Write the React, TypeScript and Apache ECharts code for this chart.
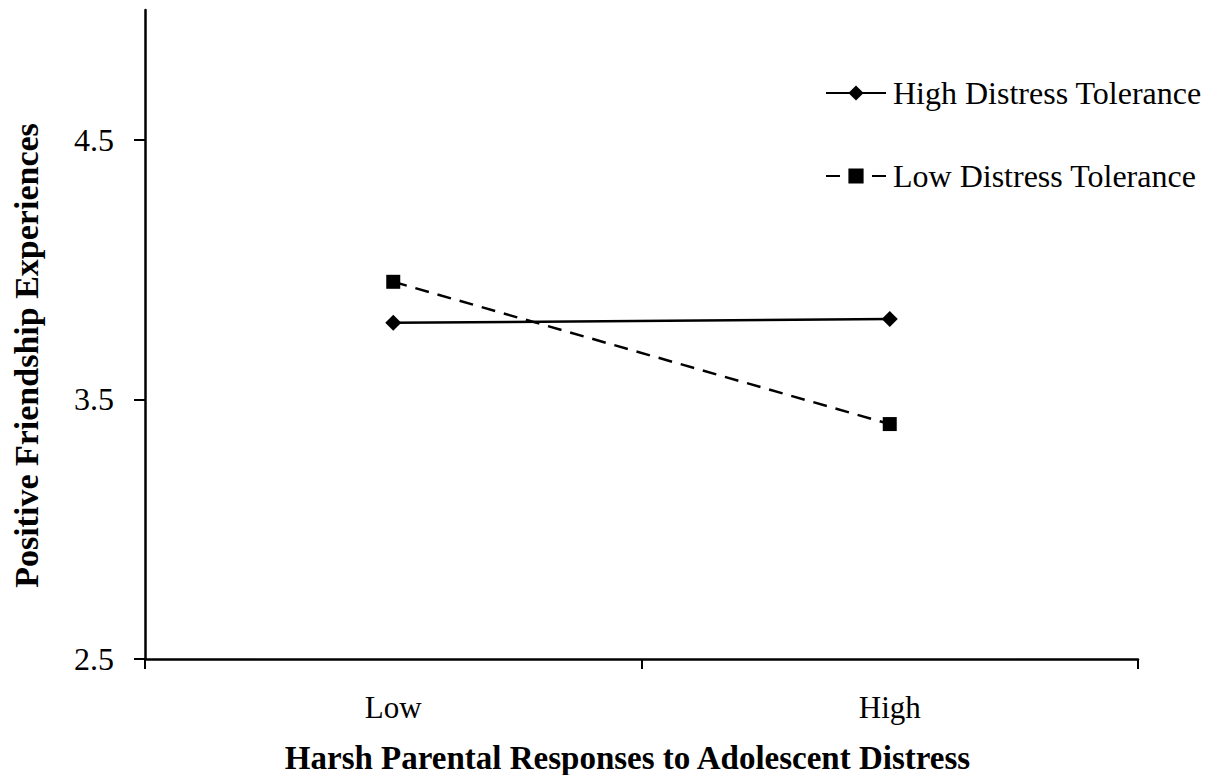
import React, { useEffect, useRef } from "react";
import * as echarts from "echarts";

const categories = ["Low", "High"];
const highDT = [3.795, 3.81];
const lowDT = [3.953, 3.405];
const yTicks = [2.5, 3.5, 4.5];

const FONT = "Liberation Serif";

export default function App() {
  const ref = useRef<HTMLDivElement>(null);
  useEffect(() => {
    if (!ref.current) return;
    const chart = echarts.init(ref.current, undefined, { renderer: "svg" });
    chart.setOption({
      animation: false,
      backgroundColor: "#ffffff",
      textStyle: { fontFamily: FONT, color: "#000" },
      grid: { left: 137, right: 82, top: 2, bottom: 116, containLabel: false, outerBoundsMode: "none" },
      legend: {
        orient: "vertical",
        left: 812,
        top: 64,
        itemWidth: 60,
        itemHeight: 19,
        itemGap: 51,
        textStyle: { fontFamily: FONT, fontSize: 32, color: "#000", padding: [0, 0, 0, 2] },
        data: [
          { name: "High Distress Tolerance" },
          { name: "Low Distress Tolerance" },
        ],
      },
      xAxis: {
        type: "category",
        data: categories,
        boundaryGap: true,
        axisLine: { lineStyle: { color: "#000", width: 2.5 } },
        axisTick: { show: true, length: 10, lineStyle: { color: "#000", width: 2 } },
        axisLabel: { fontFamily: FONT, fontSize: 31, color: "#000", margin: 33 },
        name: "Harsh Parental Responses to Adolescent Distress",
        nameLocation: "middle",
        nameGap: 82,
        nameTextStyle: {
          fontFamily: FONT,
          fontSize: 33,
          fontWeight: "bold",
          color: "#000",
          padding: [0, 28, 0, 0],
        },
      },
      yAxis: {
        type: "value",
        min: 2.5,
        max: 5,
        interval: 1,
        splitLine: { show: false },
        axisLine: { show: true, lineStyle: { color: "#000", width: 2.5 } },
        axisTick: { show: true, length: 11, customValues: yTicks, lineStyle: { color: "#000", width: 2 } },
        axisLabel: {
          fontFamily: FONT,
          fontSize: 32,
          color: "#000",
          margin: 31,
          customValues: yTicks,
          formatter: (v: number) => v.toFixed(1),
        },
        name: "Positive Friendship Experiences",
        nameLocation: "middle",
        nameGap: 102,
        nameTextStyle: {
          fontFamily: FONT,
          fontSize: 34,
          fontWeight: "bold",
          color: "#000",
          padding: [0, 42, 0, 0],
        },
      },
      series: [
        {
          name: "High Distress Tolerance",
          type: "line",
          data: highDT,
          symbol: "diamond",
          symbolSize: 16,
          itemStyle: { color: "#000" },
          lineStyle: { color: "#000", width: 2.5, type: "solid" },
        },
        {
          name: "Low Distress Tolerance",
          type: "line",
          data: lowDT,
          symbol: "rect",
          symbolSize: 14,
          itemStyle: { color: "#000" },
          lineStyle: { color: "#000", width: 2.5, type: [14, 9] },
        },
      ],
    });
    return () => chart.dispose();
  }, []);
  return <div ref={ref} style={{ width: 1212, height: 767 }} />;
}
